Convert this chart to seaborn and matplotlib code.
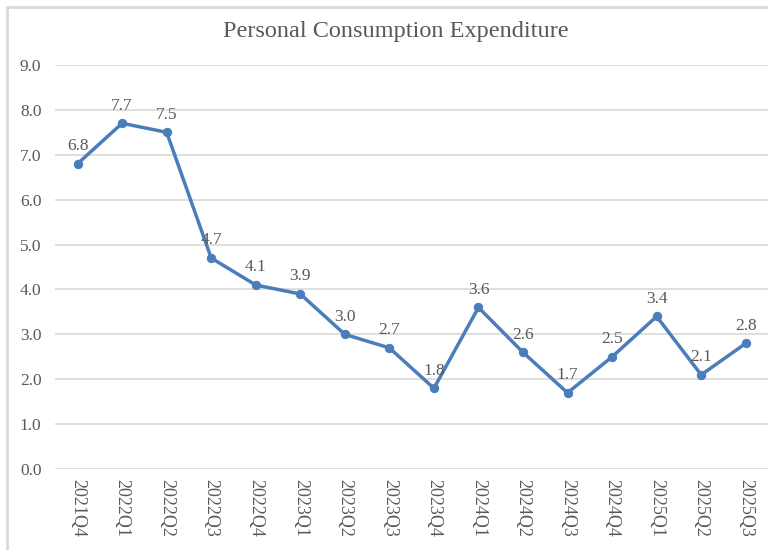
import pandas as pd
import matplotlib.pyplot as plt
import seaborn as sns
from matplotlib.patches import Rectangle

quarters = ["2021Q4", "2022Q1", "2022Q2", "2022Q3", "2022Q4", "2023Q1", "2023Q2",
            "2023Q3", "2023Q4", "2024Q1", "2024Q2", "2024Q3", "2024Q4", "2025Q1",
            "2025Q2", "2025Q3"]
pce = [6.8, 7.7, 7.5, 4.7, 4.1, 3.9, 3.0, 2.7, 1.8, 3.6, 2.6, 1.7, 2.5, 3.4, 2.1, 2.8]

df = pd.DataFrame({"quarter": quarters, "pce": pce})

LINE = '#4a7ebb'
TEXT = '#595959'
GRID = '#d9d9d9'

sns.set_style("white")
plt.rcParams['font.family'] = ['Liberation Serif', 'DejaVu Serif']

fig = plt.figure(figsize=(7.68, 5.5), dpi=100, facecolor='white')
ax = fig.add_axes([0.072, 0.147, 0.928, 0.735])

sns.lineplot(data=df, x="quarter", y="pce", ax=ax, color=LINE, linewidth=2.5,
             marker='o', markersize=6, markeredgecolor=LINE, sort=False)

ax.set_xlim(-0.5, len(quarters) - 0.5)
ax.set_ylim(0, 9)
ax.set_yticks([i for i in range(10)])
ax.set_yticklabels([f"{i:.1f}" for i in range(10)], fontsize=12.5, color=TEXT)
ax.tick_params(axis='y', length=0, pad=10)
ax.tick_params(axis='x', length=0, pad=7, labelrotation=-90, labelsize=13, labelcolor=TEXT)
for lab in ax.get_xticklabels():
    lab.set_verticalalignment('top')
ax.grid(axis='y', color=GRID, linewidth=1.2)
ax.set_axisbelow(True)
for spine in ax.spines.values():
    spine.set_visible(False)
ax.set_xlabel("")
ax.set_ylabel("")

for i, v in enumerate(pce):
    ax.annotate(f"{v:.1f}", (i, v), xytext=(0, 7), textcoords='offset points',
                ha='center', va='bottom', fontsize=12.5, color=TEXT)

fig.text(0.515, 0.942, "Personal Consumption Expenditure", ha='center', va='center',
         fontsize=17.5, color=TEXT)

fig.patches.append(Rectangle((7 / 768, -0.1), 1.2, (550 - 7) / 550 + 0.1,
                             transform=fig.transFigure, fill=False,
                             edgecolor=GRID, linewidth=2))

plt.savefig('out.png', dpi=100)
